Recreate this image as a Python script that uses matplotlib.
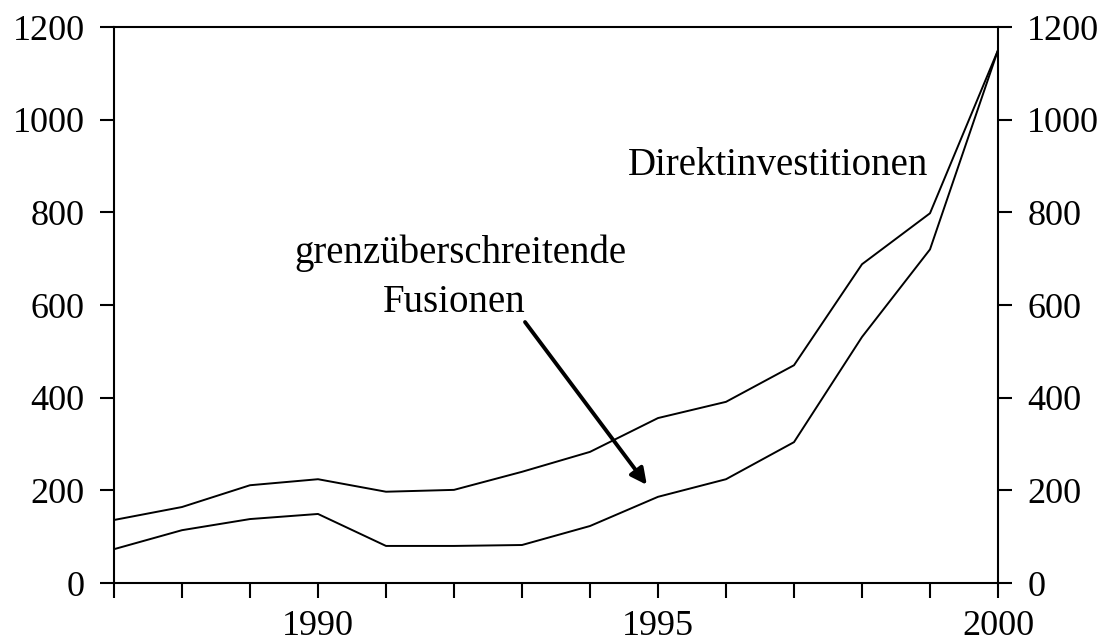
import matplotlib
matplotlib.use("Agg")
import matplotlib.pyplot as plt
from matplotlib.ticker import MultipleLocator, FixedLocator

years = [1987, 1988, 1989, 1990, 1991, 1992, 1993, 1994, 1995, 1996, 1997, 1998, 1999, 2000]
direktinvestitionen = [136, 164, 211, 224, 197, 201, 240, 283, 356, 391, 470, 688, 798, 1150]
fusionen = [73, 114, 138, 149, 80, 80, 82, 123, 186, 224, 304, 531, 720, 1150]
xtick_labels = [1990, 1995, 2000]
ytick_values = [0, 200, 400, 600, 800, 1000, 1200]

plt.rcParams['font.family'] = ['Liberation Serif', 'DejaVu Serif']

fig = plt.figure(figsize=(11.04, 6.44), dpi=100)
ax = fig.add_axes([114/1104, 1-583/644, (998-114)/1104, (583-27)/644])

ax.plot(years, direktinvestitionen, color='black', lw=1.4)
ax.plot(years, fusionen, color='black', lw=1.4)

ax.set_xlim(1987, 2000)
ax.set_ylim(0, 1200)
ax.set_yticks(ytick_values)
ax.xaxis.set_major_locator(FixedLocator(xtick_labels))
ax.xaxis.set_minor_locator(MultipleLocator(1))
ax.set_xticklabels([str(v) for v in xtick_labels])

for s in ax.spines.values():
    s.set_linewidth(1.5)

ax.tick_params(axis='y', which='both', direction='out', length=10, width=1.5,
               labelsize=26, left=True, right=True, labelleft=True, labelright=True, pad=11)
ax.tick_params(axis='x', which='both', direction='out', length=10.5, width=1.5,
               labelsize=26, pad=9)

ax.text(1996.77, 902, 'Direktinvestitionen', fontsize=28, ha='center', va='center')
ax.text(1992.1, 712, 'grenzüberschreitende', fontsize=28, ha='center', va='center')
ax.text(1992.0, 606, 'Fusionen', fontsize=28, ha='center', va='center')
ax.annotate('', xy=(1994.86, 207), xytext=(1993.02, 568),
            arrowprops=dict(arrowstyle='-|>', color='black', lw=2.8, mutation_scale=24))

fig.savefig('out.png', dpi=100)
